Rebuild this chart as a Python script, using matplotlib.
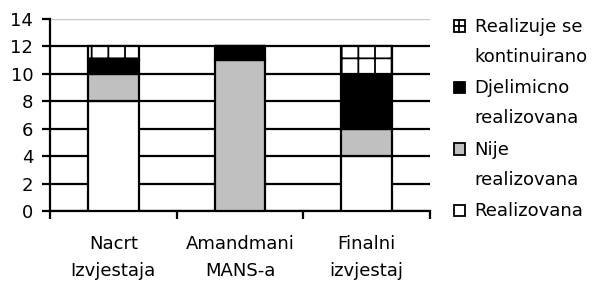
import matplotlib
matplotlib.use("Agg")
import matplotlib.pyplot as plt
import numpy as np
from matplotlib.legend_handler import HandlerPatch
from matplotlib.patches import Rectangle
from matplotlib.lines import Line2D

categories = ["Nacrt\nIzvjestaja", "Amandmani\nMANS-a", "Finalni\nizvjestaj"]
series_names = ["Realizovana", "Nije\nrealizovana", "Djelimicno\nrealizovana", "Realizuje se\nkontinuirano"]
realizovana = [8, 0, 4]
nije_realizovana = [2, 11, 2]
djelimicno = [1, 1, 4]
kontinuirano = [1, 0, 2]
y_ticks = [0, 2, 4, 6, 8, 10, 12, 14]

plt.rcParams['font.family'] = ['DejaVu Sans']
plt.rcParams['hatch.linewidth'] = 1.3
plt.rcParams['hatch.color'] = 'black'

fig = plt.figure(figsize=(5.94, 2.84), dpi=100)
ax = fig.add_axes([50/594, 1-211/284, 380/594, 192/284])

x = np.arange(len(categories))
values = [realizovana, nije_realizovana, djelimicno, kontinuirano]
faces = ['white', '#c0c0c0', 'black', 'white']
hatches = [None, None, None, '+']
bottom = np.zeros(len(categories))
handles = []
for vals, name, fc, h in zip(values, series_names, faces, hatches):
    bars = ax.bar(x, vals, width=0.4, bottom=bottom, color=fc, edgecolor='black',
                  linewidth=1.6, hatch=h, label=name, zorder=3)
    handles.append(bars)
    bottom += np.array(vals)

ax.set_xlim(-0.5, 2.5)
ax.set_ylim(0, 14)
ax.set_yticks(y_ticks)
ax.set_xticks(x)
ax.set_xticklabels(categories, fontsize=13, linespacing=1.65)
ax.set_xticks([-0.5, 0.5, 1.5, 2.5], minor=True)
ax.tick_params(axis='x', which='major', length=0, pad=17)
ax.tick_params(axis='x', which='minor', length=6, width=1.6, direction='out')
ax.tick_params(axis='y', length=6, width=1.6, pad=6, labelsize=13)

ax.yaxis.grid(True, color='black', linewidth=1.6, zorder=0)
ax.set_axisbelow(True)
gl = ax.yaxis.get_gridlines()
gl[-1].set_color('#c8c8c8')
gl[-1].set_linewidth(1.0)

for s in ['top', 'right']:
    ax.spines[s].set_visible(False)
for s in ['left', 'bottom']:
    ax.spines[s].set_linewidth(1.6)

LS = 1.85


class OffsetHandler(HandlerPatch):
    def create_artists(self, legend, orig_handle, xdescent, ydescent, width, height,
                       fontsize, trans):
        nlines = orig_handle.get_label().count('\n') + 1
        shift = (nlines - 1) * 0.5 * fontsize * LS * 1.0
        size = 0.62 * fontsize
        x0 = -xdescent + (width - size) / 2
        y0 = -ydescent + (height - size) / 2 + shift
        p = Rectangle((x0, y0), size, size, facecolor=orig_handle.get_facecolor(),
                      edgecolor='black', linewidth=1.3, transform=trans)
        arts = [p]
        if orig_handle.get_hatch():
            arts.append(Line2D([x0 + size / 2] * 2, [y0, y0 + size], color='black',
                               linewidth=1.3, transform=trans))
            arts.append(Line2D([x0, x0 + size], [y0 + size / 2] * 2, color='black',
                               linewidth=1.3, transform=trans))
        return arts


patches = [hb.patches[0] for hb in handles]
patches = patches[::-1]
labels = series_names[::-1]
for p, l in zip(patches, labels):
    p.set_label(l)
leg = fig.legend(patches, labels, loc='upper left', bbox_to_anchor=(442/594, 1 - 9/284),
                 frameon=False, fontsize=13, handlelength=0.9, handleheight=0.9,
                 handletextpad=0.4, labelspacing=0.75, borderpad=0,
                 handler_map={Rectangle: OffsetHandler()})
for t in leg.get_texts():
    t.set_linespacing(LS)

fig.savefig('out.png', dpi=100)
